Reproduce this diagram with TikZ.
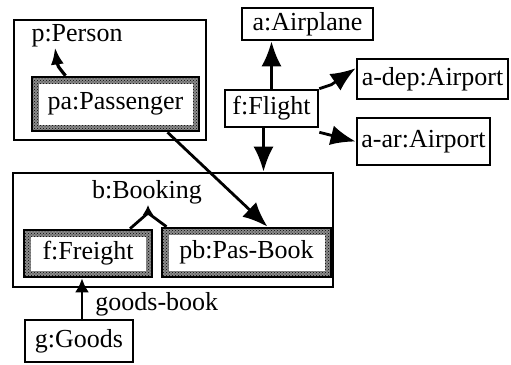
\documentclass[tikz,border=0pt]{standalone}
\usepackage{fontspec}
\setmainfont{Liberation Serif}
\newfontfamily\figfont{Liberation Serif}
\usepackage{tikz}
\usetikzlibrary{arrows.meta, patterns}

\tikzset{
  objbox/.style={draw, line width=2.6pt, inner sep=0pt, fill=white,
    font=\figfont\fontsize{26}{30}\selectfont},
  rolebox/.style={objbox,
    path picture={
      \fill[black!45] (path picture bounding box.south west)
        rectangle (path picture bounding box.north east);
      \fill[pattern=crosshatch dots] (path picture bounding box.south west)
        rectangle (path picture bounding box.north east);
      \fill[white] ([shift={(6.5pt,6.5pt)}]path picture bounding box.south west)
        rectangle ([shift={(-6.5pt,-6.5pt)}]path picture bounding box.north east);
    }},
  plaintext/.style={inner sep=0pt, font=\figfont\fontsize{26}{30}\selectfont},
  bigarr/.style={line width=2.8pt, -{Latex[length=25pt, width=20pt]}},
  smallarr/.style={line width=2.8pt, -{Latex[length=14pt, width=14pt]}},
}

\begin{document}
\begin{tikzpicture}[x=1pt, y=-1pt]
  \useasboundingbox (0,0) rectangle (511,364);

  % ── Person with its passenger role ───────────────────────────────────────
  \node[objbox, minimum width=192pt, minimum height=120pt] (person) at (110,80) {};
  \node[plaintext] (ptext) at (77,36) {p:Person};
  \node[rolebox, minimum width=167pt, minimum height=54pt] (passenger) at (115.5,104)
    {pa:Passenger};

  % ── Flight and its neighbours ────────────────────────────────────────────
  \node[objbox, minimum width=131pt, minimum height=32pt] (airplane) at (307.5,24)
    {a:Airplane};
  \node[objbox, minimum width=93pt, minimum height=37pt] (flight) at (271.5,108.5)
    {f:Flight};
  \node[objbox, minimum width=151pt, minimum height=40pt] (adep) at (432.5,79)
    {a-dep:Airport};
  \node[objbox, minimum width=133pt, minimum height=47pt] (aar) at (423.5,141.5)
    {a-ar:Airport};

  % ── Booking with its two kinds ──────────────────────────────────────────
  \node[objbox, minimum width=320pt, minimum height=114pt] (booking) at (173,230) {};
  \node[plaintext] (btext) at (147,192) {b:Booking};
  \node[rolebox, minimum width=128pt, minimum height=47pt] (freight) at (88,253.5)
    {f:Freight};
  \node[rolebox, minimum width=169pt, minimum height=49pt] (pasbook) at (246.5,252.5)
    {pb:Pas-Book};

  \node[objbox, minimum width=108pt, minimum height=42pt] (goods) at (79,341)
    {g:Goods};

  % ── Connectors ──────────────────────────────────────────────────────────
  \draw[line width=3.2pt, -{Latex[length=17pt, width=13pt]}]
    ([xshift=-50pt]passenger.north) .. controls +(-8,-10) .. ([xshift=-22pt]ptext.south);

  \draw[bigarr] (flight.north) -- (flight.north |- airplane.south);
  \draw[bigarr] (flight.north east) -- ++(12,-4) -- (adep.172);
  \draw[bigarr] ([yshift=-4pt]flight.south east) -- (aar.west);
  \draw[bigarr] ([xshift=-8pt]flight.south) -- ([xshift=-8pt]flight.south |- booking.north);

  \draw[bigarr] ([xshift=52pt]passenger.south) -- ([xshift=21pt]pasbook.north);

  \coordinate (bjoin) at (148,213);
  \draw[line width=2.8pt, line join=round]
    ([xshift=42pt]freight.north) -- (bjoin) -- ([xshift=-80pt]pasbook.north);
  \draw[line width=2.4pt, -{Latex[length=10pt, width=11pt]}] (bjoin) -- ++(0,-8);

  \draw[smallarr] ([xshift=3pt]goods.north) -- ([xshift=3pt]goods.north |- freight.south)
    node[pos=0.35, right=12pt, plaintext] (gbtext) {goods-book};

\end{tikzpicture}
\end{document}
